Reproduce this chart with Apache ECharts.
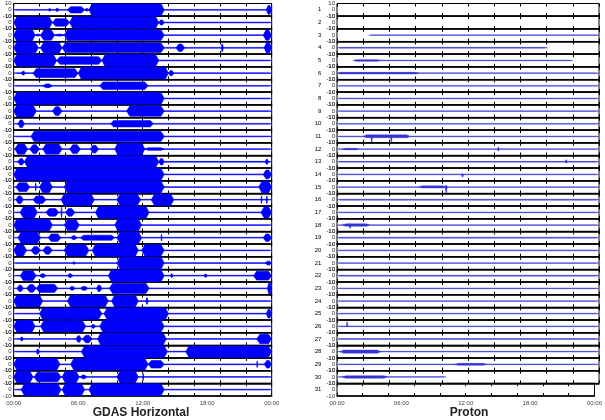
<!DOCTYPE html>
<html>
<head>
<meta charset="utf-8">
<script src="https://cdn.jsdelivr.net/npm/echarts@6/dist/echarts.min.js"></script>
<style>
html, body { margin: 0; padding: 0; background: #fff; }
#chart { width: 605px; height: 420px; }
</style>
</head>
<body>
<div id="chart"></div>
<script>
// x axis labels (hours of the day)
const timeLabels = ["00:00", "06:00", "12:00", "18:00", "00:00"];
const stationNumbers = Array.from({ length: 31 }, (_, i) => String(i + 1));

// GDAS horizontal: envelope pieces per strip, [startHour, endHour, amplitude]
const gdasBursts = [
	[[0,24,0.6],[3.2,3.5,2],[3.9,4.2,2.5],[5.0,6.6,5],[6.6,7.0,2],[7.0,14.0,10],[23.5,24,7]],
	[[0,24,0.6],[0,3.6,9],[3.6,5.2,6],[5.2,13.5,9.5],[13.5,14.0,4]],
	[[0,24,0.6],[0,2.0,10],[2.0,2.5,1.5],[2.5,3.8,8],[3.8,4.7,1.5],[4.7,14.0,8.5],[23.2,24,8]],
	[[0,24,0.6],[0,2.3,9],[2.5,4.5,9],[4.5,14.0,7.5],[15.1,15.9,6],[19.3,19.5,6],[23.3,24,9]],
	[[0,24,0.6],[0,4.0,9.5],[4.0,8.2,6],[8.2,13.5,9.5]],
	[[0,24,0.6],[0.7,1.1,3],[1.8,6.0,7],[6.0,14.4,9.5],[14.4,14.9,4]],
	[[0,24,0.6],[2.7,3.6,3],[8.0,12.5,6]],
	[[0,24,0.6],[0,14,9.5]],
	[[0,24,0.6],[0,2.1,9.5],[3.6,4.5,7],[10.5,14,8]],
	[[0,24,0.6],[0.4,1.0,6],[9.0,13.0,5]],
	[[0,24,0.6],[1.6,14,8]],
	[[0,24,0.6],[0.1,1.3,8],[1.5,2.4,7],[2.7,4.5,8],[5.2,6.2,7],[7.1,7.9,6],[9.4,12.2,10],[12.2,14.0,2]],
	[[0,24,0.6],[0.4,1.0,5],[1.0,13.5,9.5],[13.5,14.0,5],[23.4,23.7,4]],
	[[0,24,0.6],[0,14.0,9.5],[23.2,24,7]],
	[[0,24,0.6],[0.2,1.5,7],[2.0,2.1,6],[2.4,3.6,9],[4.7,14.0,9.5],[22.8,24,9.5]],
	[[0,24,0.6],[0.2,0.9,6],[1.8,3.0,6],[4.4,7.5,9],[9.6,11.8,9],[12.8,14.9,9],[23.0,23.1,6],[23.5,23.6,6]],
	[[0,24,0.6],[0.6,2.2,9],[3.0,4.2,6],[4.4,4.5,8],[4.8,5.7,6],[7.6,12.6,9.5],[23.0,24,9]],
	[[0,24,0.6],[0,3.6,9.5],[4.7,6.1,8.5],[9.4,11.9,9.5]],
	[[0,24,0.6],[0.4,2.5,9],[3.2,4.4,6],[5.3,5.9,3],[6.2,9.4,4],[9.6,11.9,9.5],[13.7,13.8,5],[23.2,24,6]],
	[[0,24,0.6],[0,1.2,9],[1.6,2.5,6],[2.7,3.6,6],[4.7,7.0,9],[7.3,11.6,9.5],[11.9,14.0,9]],
	[[0,24,0.6],[5.5,5.7,2],[9.6,14.0,10],[23.4,24,3]],
	[[0,24,0.6],[0.6,2.1,7.5],[2.4,3.0,3],[5.0,5.5,3],[8.8,14.0,9.5],[14.6,14.8,3],[17.7,18.0,2.5],[22.3,24,7]],
	[[0,24,0.6],[0.3,0.9,5],[1.2,2.1,6],[2.1,4.1,6.5],[5.2,5.7,3],[6.2,6.9,3],[7.7,8.2,5],[8.9,12.6,8],[23.6,24,9]],
	[[0,24,0.6],[0,2.7,9.5],[5.0,8.8,9.5],[9.1,11.6,9.5],[12.3,12.5,5]],
	[[0,24,0.6],[2.4,8.2,9],[8.4,14.4,9.5],[23.5,24,7]],
	[[0,24,0.6],[0,2.0,9.5],[2.5,6.7,9],[7.2,7.6,3],[8.0,14.0,9.5]],
	[[0,24,0.6],[0.6,0.9,3],[5.8,6.3,5],[6.4,7.3,6],[7.8,14.2,9.5],[22.6,24,7.5]],
	[[0,24,0.6],[2.1,2.4,4],[6.3,14.3,9.5],[16.0,24,9]],
	[[0,24,0.6],[0,4.3,9.5],[5.3,12.5,9.5],[12.5,14.0,6],[22.6,22.7,5],[23.3,24,6]],
	[[0,24,0.6],[0,1.8,9.5],[1.9,4.4,7.5],[4.5,6.1,9.5],[6.2,6.8,3],[9.6,11.6,9.5],[12.0,12.1,5]],
	[[0,24,0.6],[0.7,4.4,9.5],[4.5,6.6,9.5],[7.0,14.0,9.5]]
];

// Proton: trace pieces per strip, [startHour, endHour, low, high]
const protonTraces = [
	[],
	[],
	[[2.9,24,-0.6,0.6]],
	[[0,19.3,-0.7,0.7]],
	[[1.5,21.6,-0.6,0.6],[1.5,4.0,-1.2,1.2]],
	[[0,24,-0.7,0.7],[0,7.5,-1.2,1.2]],
	[[0,24,-0.6,0.6]],
	[[0,24,-0.6,0.6]],
	[[0,24,-0.6,0.6]],
	[[0,24,-0.6,0.6]],
	[[0,24,-0.6,0.6],[2.4,6.7,-2,2.5],[3.1,3.25,-9,1],[4.9,5.05,-9,1]],
	[[0,24,-0.6,0.6],[0.5,2,-1.2,1.2],[14.7,14.85,-3,3]],
	[[0,24,-0.6,0.6],[20.9,21.1,-2,3]],
	[[0,24,-0.7,0.7],[11.4,11.6,-4,1]],
	[[0,24,-0.6,0.6],[7.5,10,-1.5,2],[9.9,10.1,-9,3]],
	[[0,24,-0.8,0.8]],
	[[0,24,-0.6,0.6]],
	[[0,24,-0.6,0.6],[0.5,3,-2,2],[1.1,1.3,-5,2]],
	[[0,24,-0.8,0.8]],
	[[0,24,-0.7,0.7]],
	[[0,24,-0.6,0.6]],
	[[0,24,-0.7,0.7]],
	[[0,24,-0.6,0.6]],
	[[0,24,-0.6,0.6]],
	[[0,24,-0.6,0.6]],
	[[0,24,-0.6,0.6],[0.85,1.0,-1,7]],
	[[0,24,-0.7,0.7]],
	[[0,24,-0.6,0.6],[0.3,4,-2.5,2.5]],
	[[0,24,-0.6,0.6],[10.8,13.7,-1.5,1.5]],
	[[0,10,-0.6,0.6],[0.5,4.6,-2,2]],
	[]
];

const STRIPS = 31;
const TOP = 3.5;
const STRIP_H = 12.66;

const panels = [
	{ title: "GDAS Horizontal", left: 10.7, width: 261, numbered: false, color: "#0000ff", stroke: 0.6,
		data: gdasBursts.map(strip => strip.map(b => [b[0], b[1], -b[2], b[2]])) },
	{ title: "Proton", left: 337, width: 262, numbered: true, color: "#3535d5", stroke: 0.4,
		data: protonTraces }
];

function makeRender (color, stroke) {
	return function (params, api) {
		const s = api.value(0), e = api.value(1), lo = api.value(2), hi = api.value(3);
		const r = Math.min(0.3, (e - s) / 3);
		const pts = [[s, 0], [s + r, hi], [e - r, hi], [e, 0], [e - r, lo], [s + r, lo]].map(p => api.coord(p));
		return {
			type: "polygon",
			shape: { points: pts },
			style: { fill: color, stroke: color, lineWidth: stroke }
		};
	};
}

const grid = [], xAxis = [], yAxis = [], series = [];

panels.forEach(panel => {
	for (let i = 0; i < STRIPS; i++) {
		const g = grid.length;
		grid.push({
			left: panel.left,
			top: TOP + i * STRIP_H,
			width: panel.width,
			height: STRIP_H,
			show: true,
			borderColor: "#000",
			borderWidth: 1,
			backgroundColor: "transparent"
		});
		const xi = xAxis.length;
		xAxis.push({
			gridIndex: g, type: "value", min: 0, max: 24, interval: 2.4,
			axisLine: { show: true, onZero: false, lineStyle: { color: "#000", width: 1.5 } },
			axisTick: { inside: true, length: 3, lineStyle: { color: "#000" } },
			axisLabel: { show: false },
			splitLine: { show: false }
		});
		xAxis.push({
			gridIndex: g, type: "value", min: 0, max: 24, interval: 2.4, position: "top",
			axisLine: { show: false, onZero: false },
			axisTick: { inside: true, length: 3, lineStyle: { color: "#000" } },
			axisLabel: { show: false },
			splitLine: { show: false }
		});
		if (i === STRIPS - 1) {
			xAxis.push({
				gridIndex: g, type: "value", min: 0, max: 24, interval: 6, position: "bottom",
				axisLine: { show: false, onZero: false },
				axisTick: { show: false },
				splitLine: { show: false },
				axisLabel: {
					fontSize: 6, color: "#444", margin: 4,
					showMinLabel: true, showMaxLabel: true,
					formatter: v => timeLabels[Math.round(v / 6)]
				}
			});
		}
		yAxis.push({
			gridIndex: g, type: "value", min: -10, max: 10, interval: 10,
			axisLine: { show: false, onZero: false },
			axisTick: { show: false },
			splitLine: { show: false },
			axisLabel: { fontSize: 6, color: "#333", margin: 2, showMinLabel: true, showMaxLabel: true },
			name: panel.numbered ? stationNumbers[i] : "",
			nameLocation: "middle",
			nameRotate: 0,
			nameGap: 12,
			nameTextStyle: { fontSize: 6, color: "#000" }
		});
		series.push({
			type: "custom",
			xAxisIndex: xi,
			yAxisIndex: g,
			clip: true,
			renderItem: makeRender(panel.color, panel.stroke),
			data: panel.data[i]
		});
	}
});

const chart = echarts.init(document.getElementById("chart"));

option = {
	animation: false,
	backgroundColor: "#fff",
	title: [{
		text: panels[0].title, left: 141, top: 407, textAlign: "center", padding: 0,
		textStyle: { fontSize: 12, fontWeight: "bold", color: "#222", fontFamily: "Liberation Sans" }
	}, {
		text: panels[1].title, left: 469, top: 407, textAlign: "center", padding: 0,
		textStyle: { fontSize: 12, fontWeight: "bold", color: "#222", fontFamily: "Liberation Sans" }
	}],
	grid: grid,
	xAxis: xAxis,
	yAxis: yAxis,
	series: series
};

chart.setOption(option);
window.onresize = chart.resize;
</script>
</body>
</html>
